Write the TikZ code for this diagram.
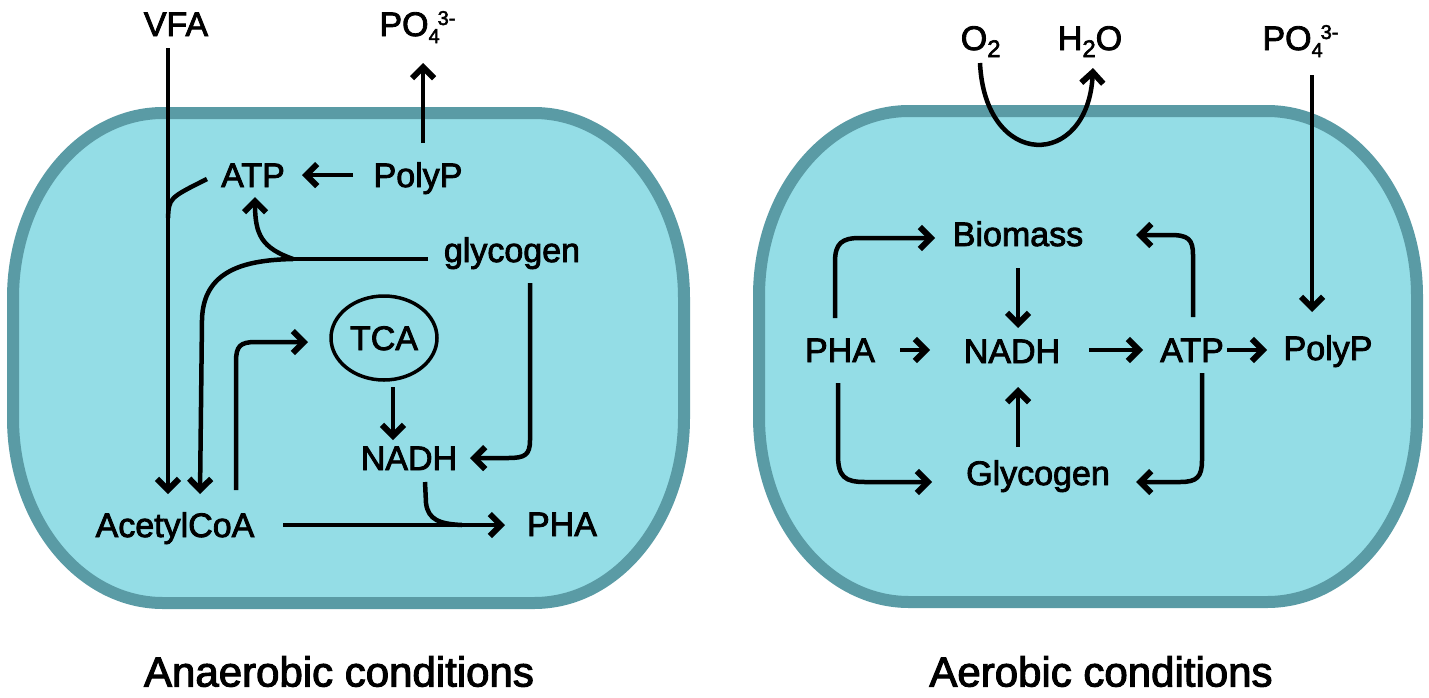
\documentclass[tikz,border=0pt]{standalone}
\usepackage{fontspec}
\setmainfont{Liberation Sans}[RawFeature={embolden=2.5}]
\usetikzlibrary{arrows.meta,calc,shapes.geometric}
\definecolor{cellfill}{RGB}{148,221,230}
\definecolor{cellborder}{RGB}{90,155,165}
\newcommand{\cellshape}[4]{(#1+150,#2) -- (#3-150,#2) arc[start angle=90,end angle=0,x radius=150pt,y radius=185pt] -- (#3,#4-185) arc[start angle=0,end angle=-90,x radius=150pt,y radius=185pt] -- (#1+150,#4) arc[start angle=270,end angle=180,x radius=150pt,y radius=185pt] -- (#1,#2+185) arc[start angle=180,end angle=90,x radius=150pt,y radius=185pt] -- cycle}
\newcommand{\pofour}{PO\rlap{\raisebox{-7pt}{\fontsize{20}{20}\selectfont 4}\kern-2pt\raisebox{11pt}{\fontsize{20}{20}\selectfont 3-}}}
\begin{document}
\begin{tikzpicture}[x=1pt,y=-1pt,
  lbl/.style={inner sep=0pt, text height=24pt, text depth=0pt, font=\fontsize{34}{40}\selectfont},
  captxt/.style={inner sep=0pt, text height=29pt, text depth=0pt, font=\fontsize{42}{48}\selectfont},
  ln/.style={line width=4.5pt},
  arr/.style={line width=4.5pt, -{Straight Barb[length=11pt,width=22pt,line width=6pt]}},
  cell/.style={fill=cellfill, draw=cellborder, line width=12pt}
]
\fill[white] (0,0) rectangle (1429,697);
\useasboundingbox (0,0) rectangle (1429,697);

% cells
\draw[cell] \cellshape{13}{113}{684}{603};
\draw[cell] \cellshape{759}{111}{1417}{602};

% ---------- left panel ----------
\node[lbl] (vfa) at (176,24) {VFA};
\node[lbl] (po4L) at (404,24) {\pofour};
\node[lbl] (atpL) at (253,175) {ATP};
\node[lbl] (polypL) at (418,175) {PolyP};
\node[lbl] (glycL) at (512,250) {glycogen};
\node[lbl] (acetyl) at (175,525) {AcetylCoA};
\node[draw, ellipse, line width=3.5pt, minimum width=106pt, minimum height=84pt, inner sep=0pt, text height=24pt, text depth=0pt, font=\fontsize{34}{40}\selectfont] (tca) at (384,338) {TCA};
\node[lbl] (nadhL) at (409,458) {NADH};
\node[lbl] (phaL) at (562,524) {PHA};
\node[captxt] (capL) at (339,672) {Anaerobic conditions};

\coordinate (vfaJ) at (168,218);
\coordinate (gJ) at (293,259);
\coordinate (mergeJ) at (462,525);

\draw[arr] ($(vfa)+(-8,24)$) -- ($(acetyl)+(-7,-31)$);
\draw[ln] (vfaJ) .. controls (169,198) .. ($(atpL)+(-46,4)$);
\draw[arr] ($(polypL)+(-65,0)$) -- ($(atpL)+(49,0)$);
\draw[arr] ($(polypL)+(5,-32)$) -- ($(po4L)+(19,39)$);
\draw[ln] ($(glycL)+(-84,9)$) -- (gJ);
\draw[arr] (gJ) .. controls (262,248) and (255,235) .. ($(atpL)+(2,22)$);
\draw[arr] (gJ) .. controls (245,260) and (203,270) .. (202,320) -- ($(acetyl)+(25,-31)$);
\draw[arr] ($(glycL)+(18,33)$) -- (530,440) .. controls (530,455) and (525,458) .. (508,458) -- ($(nadhL)+(61,0)$);
\draw[arr] ($(acetyl)+(61,-35)$) -- (236,362) .. controls (236,346) and (240,342) .. (256,342) -- ($(tca)+(-76,4)$);
\draw[arr] ($(tca)+(9,49)$) -- ($(nadhL)+(-16,-18)$);
\draw[arr] ($(acetyl)+(108,0)$) -- ($(phaL)+(-57,1)$);
\draw[ln] ($(nadhL)+(16,24)$) -- (426,503) .. controls (428,520) and (440,524) .. (mergeJ);

% ---------- right panel ----------
\node[lbl] (o2) at (974,38) {O\rlap{\raisebox{-7pt}{\fontsize{24}{24}\selectfont 2}}};
\node[lbl] (h2o) at (1090,38) {H\raisebox{-7pt}{\fontsize{24}{24}\selectfont 2}O};
\node[lbl] (po4R) at (1287,38) {\pofour};
\node[lbl] (biomass) at (1018,234) {Biomass};
\node[lbl] (phaR) at (840,350) {PHA};
\node[lbl] (nadhR) at (1012,351) {NADH};
\node[lbl] (atpR) at (1192,350) {ATP};
\node[lbl] (polypR) at (1328,348) {PolyP};
\node[lbl] (glycR) at (1038,473) {Glycogen};
\node[captxt] (capR) at (1101,672) {Aerobic conditions};

\draw[arr] ($(o2)+(6,25)$) .. controls (985,170) and (1088,170) .. ($(h2o)+(3,30)$);
\draw[arr] ($(po4R)+(25,37)$) -- ($(polypR)+(-16,-36)$);
\draw[arr] ($(phaR)+(-5,-32)$) -- (835,262) .. controls (835,243) and (842,238) .. (860,238) -- ($(biomass)+(-83,4)$);
\draw[arr] ($(phaR)+(60,0)$) -- ($(nadhR)+(-82,-1)$);
\draw[arr] ($(biomass)+(0,34)$) -- ($(nadhR)+(6,-23)$);
\draw[arr] ($(glycR)+(-20,-26)$) -- ($(nadhR)+(6,36)$);
\draw[arr] ($(phaR)+(-2,33)$) -- (838,455) .. controls (838,477) and (845,482) .. (865,482) -- ($(glycR)+(-106,9)$);
\draw[arr] ($(nadhR)+(77,-1)$) -- ($(atpR)+(-49,0)$);
\draw[arr] ($(atpR)+(35,0)$) -- ($(polypR)+(-61,2)$);
\draw[arr] ($(atpR)+(1,-33)$) -- (1193,255) .. controls (1193,239) and (1188,235) .. (1170,235) -- ($(biomass)+(118,1)$);
\draw[arr] ($(atpR)+(10,23)$) -- (1202,460) .. controls (1202,477) and (1197,482) .. (1180,482) -- ($(glycR)+(98,9)$);
\end{tikzpicture}
\end{document}
